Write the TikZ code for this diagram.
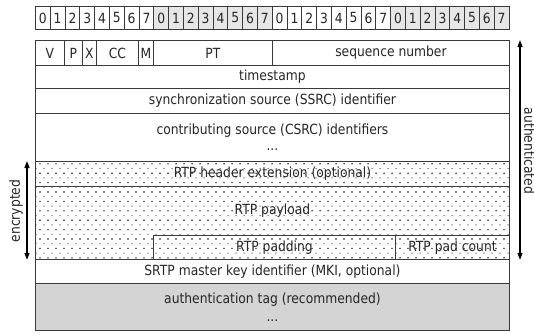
\documentclass[tikz,border=0pt]{standalone}
\usepackage{fontspec}
\setmainfont{DejaVu Sans}[FakeStretch=0.88]
\usetikzlibrary{arrows.meta,patterns}

\definecolor{linegray}{HTML}{3A3A3A}
\definecolor{bytegray}{HTML}{E6E6E6}
\definecolor{taggray}{HTML}{D4D4D4}
\definecolor{dotdark}{HTML}{141414}
\definecolor{dotlight}{HTML}{6E6E6E}

% staggered rows of dark and light dots for the encrypted part
\pgfdeclarepatterninherentlycolored{stagdots}
  {\pgfqpoint{-1pt}{-1pt}}{\pgfqpoint{9pt}{10.4pt}}{\pgfqpoint{8pt}{9.4pt}}
  {\pgfsetfillcolor{dotdark}\pgfpathcircle{\pgfqpoint{0pt}{0pt}}{0.8pt}\pgfusepath{fill}%
   \pgfsetfillcolor{dotlight}\pgfpathcircle{\pgfqpoint{4pt}{4.7pt}}{0.75pt}\pgfusepath{fill}}

\newcommand\tabfont{\fontsize{14}{17}\selectfont}

\tikzset{
  cell/.style={draw=linegray, line width=0.9pt, inner sep=0pt, anchor=north west,
               font=\tabfont, align=center, text=black!85},
  bitcell/.style={cell},
  crypt/.style={pattern=stagdots},
  span/.style={<->, >={Triangle[length=7pt,width=5pt]}, line width=1.3pt},
  side/.style={font=\tabfont, text=black!85, inner sep=0pt}
}

\begin{document}
\begin{tikzpicture}[x=1pt, y=-1pt]
\useasboundingbox (0,0) rectangle (534,333);

% bit ruler: four bytes, every second byte shaded
\foreach \i in {0,...,31} {
  \pgfmathtruncatemacro\bitno{mod(\i,8)}
  \pgfmathtruncatemacro\byteno{div(\i,8)}
  \ifodd\byteno\def\bitfill{bytegray}\else\def\bitfill{white}\fi
  \node[bitcell, fill=\bitfill, minimum width=14.8pt, minimum height=23pt]
    (bit\i) at (35+\i*14.8, 6) {\bitno};
}

% fixed RTP header
\node[cell, minimum width=29pt,  minimum height=25pt] (v)   at (35,40)  {V};
\node[cell, minimum width=18pt,  minimum height=25pt] (p)   at (64,40)  {P};
\node[cell, minimum width=14pt,  minimum height=25pt] (x)   at (82,40)  {X};
\node[cell, minimum width=42pt,  minimum height=25pt] (cc)  at (96,40)  {CC};
\node[cell, minimum width=15pt,  minimum height=25pt] (m)   at (138,40) {M};
\node[cell, minimum width=119pt, minimum height=25pt] (pt)  at (153,40) {PT};
\node[cell, minimum width=237pt, minimum height=25pt] (seq) at (272,40) {sequence number};

\node[cell, minimum width=474pt, minimum height=23pt] (ts)   at (35,65)  {timestamp};
\node[cell, minimum width=474pt, minimum height=25pt] (ssrc) at (35,88)  {synchronization source (SSRC) identifier};
\node[cell, minimum width=474pt, minimum height=48pt] (csrc) at (35,113) {contributing source (CSRC) identifiers\\[-1pt]...};

% encrypted portion
\node[cell, crypt, minimum width=474pt, minimum height=25pt] (ext) at (35,161) {RTP header extension (optional)};
\node[cell, crypt, minimum width=474pt, minimum height=73pt,
      label={[side, yshift=12pt]center:RTP payload}] (payload) at (35,186) {};
\node[cell, minimum width=242pt, minimum height=24pt] (pad)    at (153,235) {RTP padding};
\node[cell, minimum width=114pt, minimum height=24pt] (padcnt) at (395,235) {RTP pad count};

% trailer
\node[cell, minimum width=474pt, minimum height=24pt] (mki) at (35,259) {SRTP master key identifier (MKI, optional)};
\node[cell, fill=taggray, minimum width=474pt, minimum height=47pt] (tag) at (35,283) {authentication tag (recommended)\\[1pt]...};

% extent markers
\coordinate (encx) at (27,0);
\coordinate (enctop) at (ext.north -| encx);
\coordinate (encbot) at (payload.south -| encx);
\draw[span] (enctop) -- (encbot);
\node[side, rotate=90] (enclbl) at (16,211) {encrypted};

\coordinate (authx) at (520,0);
\coordinate (authtop) at (seq.north -| authx);
\coordinate (authbot) at (payload.south -| authx);
\draw[span] (authtop) -- (authbot);
\node[side, rotate=-90] (authlbl) at (529.5,151) {authenticated};
\end{tikzpicture}
\end{document}
